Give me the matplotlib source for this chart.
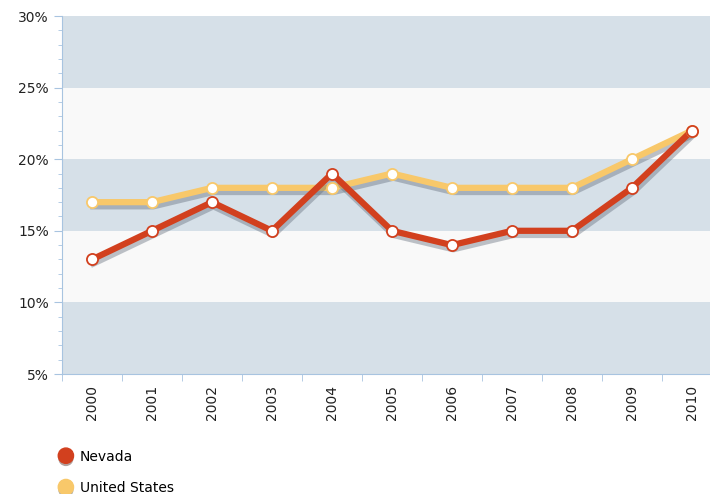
import matplotlib.pyplot as plt
import matplotlib.patheffects as pe
from matplotlib.lines import Line2D
from matplotlib.ticker import MultipleLocator, FuncFormatter

years = ["2000", "2001", "2002", "2003", "2004", "2005", "2006", "2007", "2008", "2009", "2010"]
nevada = [13, 15, 17, 15, 19, 15, 14, 15, 15, 18, 22]
united_states = [17, 17, 18, 18, 18, 19, 18, 18, 18, 20, 22]

nv_color = "#d2401e"
us_color = "#f8c86a"

fig = plt.figure(figsize=(7.1, 4.94), dpi=100)
ax = fig.add_axes([62 / 710, 1 - 374 / 494, 1 - 62 / 710, (374 - 16) / 494])

# alternating bands
for lo in range(5, 30, 5):
    c = "#d6e0e8" if (lo // 5) % 2 == 1 else "#f9f9f9"
    ax.axhspan(lo, lo + 5, color=c, lw=0, zorder=0)

x = list(range(len(years)))
shadow = [pe.SimpleLineShadow(offset=(1, -3), shadow_color="#606a78", alpha=0.4), pe.Normal()]

ax.plot(x, united_states, color=us_color, lw=4.5, zorder=3, path_effects=shadow, solid_joinstyle="round")
ax.plot(x, nevada, color=nv_color, lw=4.5, zorder=4, path_effects=shadow, solid_joinstyle="round")
ax.plot(x, united_states, "o", ms=8, mfc="white", mec=us_color, mew=1.3, zorder=5)
ax.plot(x, nevada, "o", ms=8, mfc="white", mec=nv_color, mew=1.3, zorder=6)

ax.yaxis.set_major_locator(MultipleLocator(5))
ax.yaxis.set_minor_locator(MultipleLocator(1))
ax.yaxis.set_major_formatter(FuncFormatter(lambda v, p: f"{int(v)}%"))

ax.set_xticks(x)
ax.set_xticklabels(years, rotation=90)
ax.set_xticks([i - 0.5 for i in range(len(years) + 1)], minor=True)
ax.set_ylim(5, 30)
ax.set_xlim(-0.5, (710 - 93) / 59.9)
ax.tick_params(axis="x", which="major", length=0, pad=8)
ax.tick_params(axis="x", which="minor", length=5, color="#a8c4e0")
ax.tick_params(axis="y", which="major", length=6, color="#a8c4e0")
ax.tick_params(axis="y", which="minor", length=3, color="#a8c4e0")
ax.tick_params(labelsize=10, labelcolor="#222222")

for s in ["top", "right"]:
    ax.spines[s].set_visible(False)
for s in ["left", "bottom"]:
    ax.spines[s].set_color("#a8c4e0")

handles = [
    Line2D([], [], marker="o", ls="", ms=11, mfc=nv_color, mec=nv_color,
           path_effects=[pe.SimplePatchShadow(offset=(0, -2), alpha=0.4), pe.Normal()]),
    Line2D([], [], marker="o", ls="", ms=11, mfc=us_color, mec=us_color,
           path_effects=[pe.SimplePatchShadow(offset=(0, -2), alpha=0.4), pe.Normal()]),
]
fig.legend(handles, ["Nevada", "United States"], loc="upper left",
           bbox_to_anchor=(52 / 710, 1 - 444 / 494), frameon=False,
           fontsize=10, handletextpad=0.4, labelspacing=1.25, handlelength=1.2,
           borderaxespad=0)

fig.savefig("out.png", dpi=100)
